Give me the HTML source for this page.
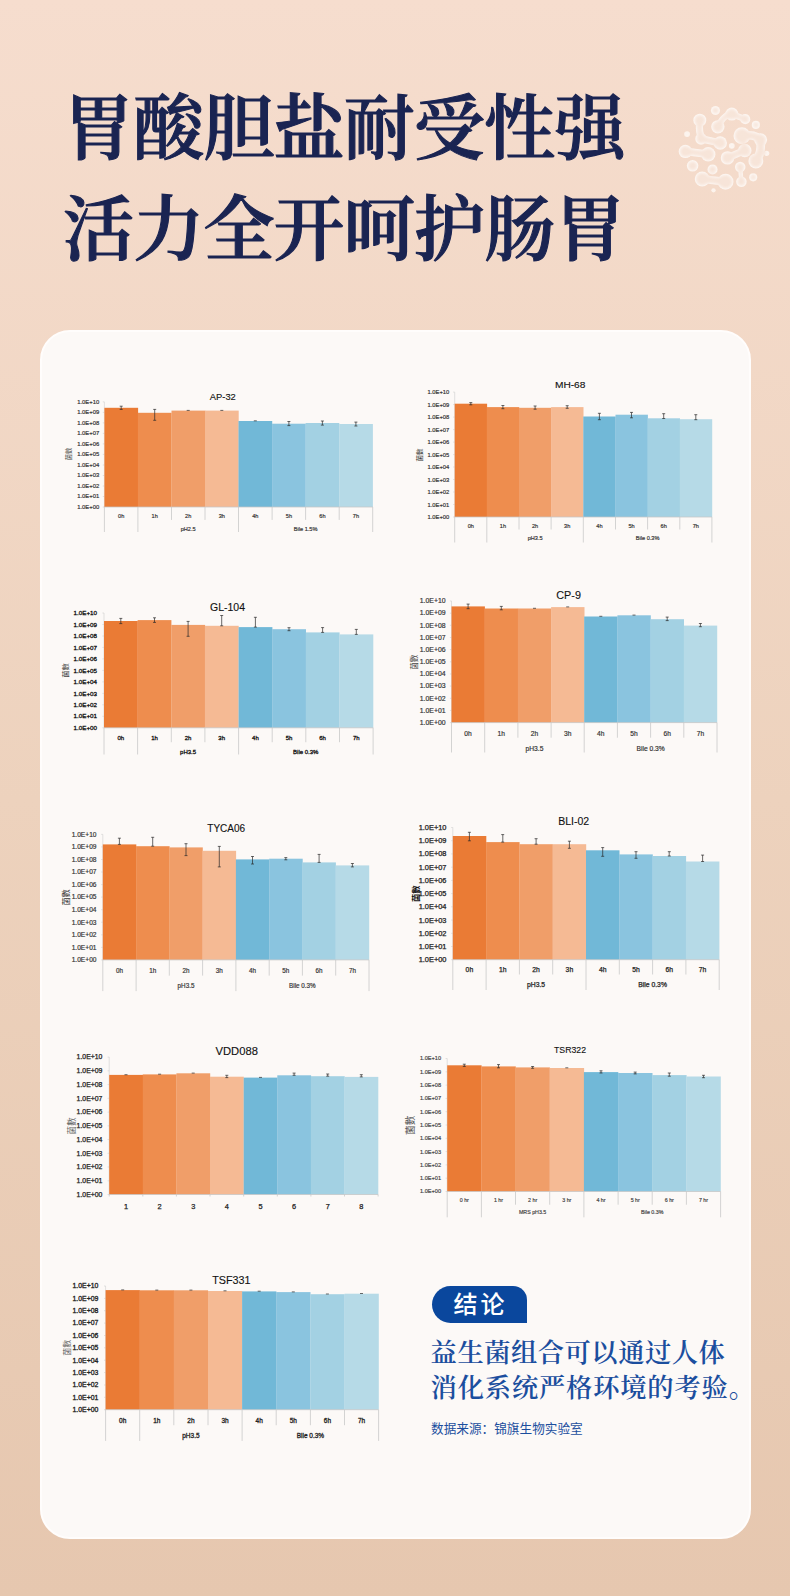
<!DOCTYPE html>
<html lang="zh-CN">
<head>
<meta charset="utf-8">
<title>胃酸胆盐耐受性强</title>
<style>
html,body{margin:0;padding:0;}
body{width:790px;height:1596px;position:relative;overflow:hidden;
 background:linear-gradient(180deg,#F6DDCE 0px,#EDD2BD 800px,#E6C7AF 1596px);
 font-family:"Liberation Sans","Noto Sans CJK SC",sans-serif;}
.title{position:absolute;left:63px;top:79px;margin:0;color:#1A2452;
 font-family:"Liberation Serif","Noto Serif CJK SC",serif;font-weight:600;-webkit-text-stroke:1.1px #1A2452;
 font-size:71px;line-height:101px;letter-spacing:-0.8px;white-space:nowrap;}
.card{position:absolute;left:40px;top:330px;width:711px;height:1209px;box-sizing:border-box;
 background:#FCF9F7;border:2px solid #FFFDFC;border-radius:30px;}
.charts{position:absolute;left:0;top:0;}

.pill{position:absolute;left:432px;top:1286px;width:95px;height:37px;background:#0A479D;
 border-radius:18.5px 14px 0 18.5px;color:#fff;font-weight:500;font-size:24px;line-height:38px;
 text-align:center;letter-spacing:3px;text-indent:2px;box-sizing:border-box;}
.concl{position:absolute;left:430.6px;top:1336.2px;margin:0;color:#1B4E9E;white-space:nowrap;
 font-family:"Liberation Serif","Noto Serif CJK SC",serif;font-weight:600;font-size:26.3px;line-height:35px;letter-spacing:0.5px;}
.concl span{letter-spacing:0.8px;}
.src{position:absolute;left:431px;top:1419.7px;margin:0;color:#1B4E9E;font-size:12.65px;line-height:18px;white-space:nowrap;}
.deco{position:absolute;left:610px;top:100px;}
</style>
</head>
<body>
<h1 class="title">胃酸胆盐耐受性强<br>活力全开呵护肠胃</h1>
<svg class="deco" width="180" height="120" viewBox="0 0 180 120" aria-hidden="true">
<defs><filter id="soft" x="-10%" y="-10%" width="120%" height="120%" color-interpolation-filters="sRGB">
<feGaussianBlur in="SourceAlpha" stdDeviation="9" result="b"/>
<feComponentTransfer in="b" result="inner"><feFuncA type="linear" slope="2.2" intercept="-1.1"/></feComponentTransfer>
<feGaussianBlur in="SourceGraphic" stdDeviation="2.2" result="sg"/>
<feComposite in="sg" in2="inner" operator="arithmetic" k1="-0.62" k2="1" k3="0" k4="0"/>
</filter></defs>
<g transform="translate(-10 -40) scale(0.2405)" filter="url(#soft)" fill="#FFFCF9" stroke="#FFFCF9" stroke-linecap="round" stroke-linejoin="round" opacity="0.75">
<circle cx="480" cy="210" r="19" stroke="none"/>
<circle cx="415" cy="250" r="27" stroke="none"/><circle cx="500" cy="345" r="28" stroke="none"/><circle cx="420" cy="328" r="24" stroke="none"/>
<path d="M415 250 Q408 318 432 330 L500 345" fill="none" stroke-width="30"/>
<circle cx="490" cy="278" r="28" stroke="none"/><circle cx="548" cy="225" r="27" stroke="none"/><circle cx="604" cy="246" r="21" stroke="none"/>
<path d="M490 278 Q515 225 548 225 L604 246" fill="none" stroke-width="26"/>
<circle cx="648" cy="270" r="17" stroke="none"/>
<circle cx="362" cy="308" r="12" stroke="none"/>
<circle cx="590" cy="315" r="35" stroke="none"/><circle cx="648" cy="420" r="31" stroke="none"/><circle cx="668" cy="332" r="27" stroke="none"/>
<path d="M590 315 Q655 305 668 340 Q672 390 648 420" fill="none" stroke-width="36"/>
<circle cx="355" cy="380" r="28" stroke="none"/><circle cx="450" cy="392" r="30" stroke="none"/>
<path d="M355 380 L450 392" fill="none" stroke-width="32"/>
<circle cx="548" cy="357" r="12" stroke="none"/>
<circle cx="530" cy="407" r="28" stroke="none"/><circle cx="602" cy="376" r="28" stroke="none"/>
<path d="M530 407 L602 376" fill="none" stroke-width="30"/>
<circle cx="385" cy="440" r="24" stroke="none"/>
<circle cx="468" cy="455" r="21" stroke="none"/>
<circle cx="425" cy="495" r="31" stroke="none"/><circle cx="522" cy="506" r="33" stroke="none"/>
<path d="M425 495 L522 506" fill="none" stroke-width="34"/>
<circle cx="583" cy="445" r="22" stroke="none"/><circle cx="588" cy="506" r="22" stroke="none"/>
<path d="M583 445 L588 506" fill="none" stroke-width="18"/>
<circle cx="637" cy="488" r="17" stroke="none"/>
<circle cx="472" cy="542" r="9" stroke="none"/>
<circle cx="693" cy="388" r="11" stroke="none"/>
</g>
</svg>

<div class="card"></div>
<svg class="charts" width="790" height="1596" viewBox="0 0 790 1596">
<g font-family='"Liberation Sans", sans-serif' fill="#333" stroke="#333" stroke-width="0.18">
<text x="222.8" y="399.9" font-size="9.6" text-anchor="middle" textLength="26" lengthAdjust="spacingAndGlyphs" fill="#111" stroke="#111" stroke-width="0.12">AP-32</text>
<path d="M104.4 401.9V507M102.8 401.9h1.6M102.8 412.4h1.6M102.8 422.9h1.6M102.8 433.4h1.6M102.8 443.9h1.6M102.8 454.4h1.6M102.8 465h1.6M102.8 475.5h1.6M102.8 486h1.6M102.8 496.5h1.6M102.8 507h1.6" stroke="#cfcfcf" stroke-width="0.6" fill="none"/>
<rect x="104.4" y="407.8" width="33.7" height="99.2" fill="#EA7B35" stroke="none"/>
<rect x="137.9" y="412.8" width="33.7" height="94.2" fill="#EE8D4E" stroke="none"/>
<rect x="171.5" y="410.6" width="33.7" height="96.4" fill="#F09E69" stroke="none"/>
<rect x="205" y="410.6" width="33.7" height="96.4" fill="#F5BA94" stroke="none"/>
<rect x="238.5" y="421" width="33.7" height="86" fill="#71B8D7" stroke="none"/>
<rect x="272.1" y="423.7" width="33.7" height="83.3" fill="#8AC4DF" stroke="none"/>
<rect x="305.6" y="423" width="33.7" height="84" fill="#A3D1E3" stroke="none"/>
<rect x="339.2" y="424" width="33.7" height="83" fill="#B6DAE7" stroke="none"/>
<path d="M121.2 406.2V409.4M119.7 406.2h3M119.7 409.4h3M154.7 409.4V420.3M153.2 409.4h3M153.2 420.3h3M186.7 410.4h3M220.3 410.4h3M253.8 420.8h3M288.9 421.5V425.6M287.4 421.5h3M287.4 425.6h3M322.4 421V425.1M320.9 421h3M320.9 425.1h3M355.9 422.1V426M354.4 422.1h3M354.4 426h3" stroke="#2a2a2a" stroke-width="0.7" fill="none"/>
<text x="99.2" y="403.9" font-size="5.6" text-anchor="end" textLength="22" lengthAdjust="spacingAndGlyphs">1.0E+10</text>
<text x="99.2" y="414.4" font-size="5.6" text-anchor="end" textLength="22" lengthAdjust="spacingAndGlyphs">1.0E+09</text>
<text x="99.2" y="424.9" font-size="5.6" text-anchor="end" textLength="22" lengthAdjust="spacingAndGlyphs">1.0E+08</text>
<text x="99.2" y="435.4" font-size="5.6" text-anchor="end" textLength="22" lengthAdjust="spacingAndGlyphs">1.0E+07</text>
<text x="99.2" y="445.9" font-size="5.6" text-anchor="end" textLength="22" lengthAdjust="spacingAndGlyphs">1.0E+06</text>
<text x="99.2" y="456.4" font-size="5.6" text-anchor="end" textLength="22" lengthAdjust="spacingAndGlyphs">1.0E+05</text>
<text x="99.2" y="466.9" font-size="5.6" text-anchor="end" textLength="22" lengthAdjust="spacingAndGlyphs">1.0E+04</text>
<text x="99.2" y="477.4" font-size="5.6" text-anchor="end" textLength="22" lengthAdjust="spacingAndGlyphs">1.0E+03</text>
<text x="99.2" y="487.9" font-size="5.6" text-anchor="end" textLength="22" lengthAdjust="spacingAndGlyphs">1.0E+02</text>
<text x="99.2" y="498.4" font-size="5.6" text-anchor="end" textLength="22" lengthAdjust="spacingAndGlyphs">1.0E+01</text>
<text x="99.2" y="509" font-size="5.6" text-anchor="end" textLength="22" lengthAdjust="spacingAndGlyphs">1.0E+00</text>
<text transform="translate(69 454) rotate(-90)" font-family='"Liberation Sans", "Noto Sans CJK TC", sans-serif' font-size="6.3" text-anchor="middle" dy="0.35em" fill="#444" stroke="none">菌數</text>
<path d="M104.4 507V532M137.9 507V532M171.5 507V519.9M205 507V519.9M238.5 507V532M272.1 507V519.9M305.6 507V519.9M339.2 507V519.9M372.7 507V532M104.4 507H372.7" stroke="#c6c6c6" stroke-width="0.75" fill="none"/>
<text x="121.2" y="518" font-size="5.6" text-anchor="middle">0h</text>
<text x="154.7" y="518" font-size="5.6" text-anchor="middle">1h</text>
<text x="188.2" y="518" font-size="5.6" text-anchor="middle">2h</text>
<text x="221.8" y="518" font-size="5.6" text-anchor="middle">3h</text>
<text x="255.3" y="518" font-size="5.6" text-anchor="middle">4h</text>
<text x="288.9" y="518" font-size="5.6" text-anchor="middle">5h</text>
<text x="322.4" y="518" font-size="5.6" text-anchor="middle">6h</text>
<text x="355.9" y="518" font-size="5.6" text-anchor="middle">7h</text>
<text x="188.2" y="531" font-size="5.6" text-anchor="middle">pH2.5</text>
<text x="305.6" y="531" font-size="5.6" text-anchor="middle">Bile 1.5%</text>
</g>
<g font-family='"Liberation Sans", sans-serif' fill="#333" stroke="#333" stroke-width="0.18">
<text x="570.2" y="387.5" font-size="9.6" text-anchor="middle" textLength="30.5" lengthAdjust="spacingAndGlyphs" fill="#111" stroke="#111" stroke-width="0.12">MH-68</text>
<path d="M454.7 392.1V517M453.1 392.1h1.6M453.1 404.6h1.6M453.1 417.1h1.6M453.1 429.6h1.6M453.1 442.1h1.6M453.1 454.6h1.6M453.1 467h1.6M453.1 479.5h1.6M453.1 492h1.6M453.1 504.5h1.6M453.1 517h1.6" stroke="#cfcfcf" stroke-width="0.6" fill="none"/>
<rect x="454.7" y="403.7" width="32.4" height="113.3" fill="#EA7B35" stroke="none"/>
<rect x="486.8" y="407.1" width="32.4" height="109.9" fill="#EE8D4E" stroke="none"/>
<rect x="519" y="407.8" width="32.4" height="109.2" fill="#F09E69" stroke="none"/>
<rect x="551.1" y="407.1" width="32.4" height="109.9" fill="#F5BA94" stroke="none"/>
<rect x="583.3" y="416.5" width="32.4" height="100.5" fill="#71B8D7" stroke="none"/>
<rect x="615.5" y="414.7" width="32.4" height="102.3" fill="#8AC4DF" stroke="none"/>
<rect x="647.6" y="418.3" width="32.4" height="98.7" fill="#A3D1E3" stroke="none"/>
<rect x="679.8" y="419.2" width="32.4" height="97.8" fill="#B6DAE7" stroke="none"/>
<path d="M470.8 402.6V404.8M469.3 402.6h3M469.3 404.8h3M502.9 405.5V408.7M501.4 405.5h3M501.4 408.7h3M535.1 406V409.2M533.6 406h3M533.6 409.2h3M567.2 405.7V408.3M565.7 405.7h3M565.7 408.3h3M599.4 413.3V419.7M597.9 413.3h3M597.9 419.7h3M631.5 412.4V417.8M630 412.4h3M630 417.8h3M663.7 413.7V418.5M662.2 413.7h3M662.2 418.5h3M695.8 414.7V419.7M694.3 414.7h3M694.3 419.7h3" stroke="#2a2a2a" stroke-width="0.7" fill="none"/>
<text x="449.2" y="394.1" font-size="5.6" text-anchor="end" textLength="21.7" lengthAdjust="spacingAndGlyphs">1.0E+10</text>
<text x="449.2" y="406.6" font-size="5.6" text-anchor="end" textLength="21.7" lengthAdjust="spacingAndGlyphs">1.0E+09</text>
<text x="449.2" y="419" font-size="5.6" text-anchor="end" textLength="21.7" lengthAdjust="spacingAndGlyphs">1.0E+08</text>
<text x="449.2" y="431.5" font-size="5.6" text-anchor="end" textLength="21.7" lengthAdjust="spacingAndGlyphs">1.0E+07</text>
<text x="449.2" y="444" font-size="5.6" text-anchor="end" textLength="21.7" lengthAdjust="spacingAndGlyphs">1.0E+06</text>
<text x="449.2" y="456.5" font-size="5.6" text-anchor="end" textLength="21.7" lengthAdjust="spacingAndGlyphs">1.0E+05</text>
<text x="449.2" y="469" font-size="5.6" text-anchor="end" textLength="21.7" lengthAdjust="spacingAndGlyphs">1.0E+04</text>
<text x="449.2" y="481.5" font-size="5.6" text-anchor="end" textLength="21.7" lengthAdjust="spacingAndGlyphs">1.0E+03</text>
<text x="449.2" y="494" font-size="5.6" text-anchor="end" textLength="21.7" lengthAdjust="spacingAndGlyphs">1.0E+02</text>
<text x="449.2" y="506.5" font-size="5.6" text-anchor="end" textLength="21.7" lengthAdjust="spacingAndGlyphs">1.0E+01</text>
<text x="449.2" y="519" font-size="5.6" text-anchor="end" textLength="21.7" lengthAdjust="spacingAndGlyphs">1.0E+00</text>
<text transform="translate(419.6 455) rotate(-90)" font-family='"Liberation Sans", "Noto Sans CJK TC", sans-serif' font-size="6.6" text-anchor="middle" dy="0.35em" fill="#333" stroke="none">菌數</text>
<path d="M454.7 517V542.5M486.8 517V542.5M519 517V529.5M551.1 517V529.5M583.3 517V542.5M615.5 517V529.5M647.6 517V529.5M679.8 517V529.5M711.9 517V542.5M454.7 517H711.9" stroke="#c6c6c6" stroke-width="0.75" fill="none"/>
<text x="470.8" y="527.8" font-size="5.6" text-anchor="middle">0h</text>
<text x="502.9" y="527.8" font-size="5.6" text-anchor="middle">1h</text>
<text x="535.1" y="527.8" font-size="5.6" text-anchor="middle">2h</text>
<text x="567.2" y="527.8" font-size="5.6" text-anchor="middle">3h</text>
<text x="599.4" y="527.8" font-size="5.6" text-anchor="middle">4h</text>
<text x="631.5" y="527.8" font-size="5.6" text-anchor="middle">5h</text>
<text x="663.7" y="527.8" font-size="5.6" text-anchor="middle">6h</text>
<text x="695.8" y="527.8" font-size="5.6" text-anchor="middle">7h</text>
<text x="535.1" y="539.8" font-size="5.6" text-anchor="middle">pH3.5</text>
<text x="647.6" y="539.8" font-size="5.6" text-anchor="middle">Bile 0.3%</text>
</g>
<g font-family='"Liberation Sans", sans-serif' fill="#111" stroke="#111" stroke-width="0.3">
<text x="227.5" y="611.4" font-size="10" text-anchor="middle" textLength="35" lengthAdjust="spacingAndGlyphs" fill="#111" stroke="#111" stroke-width="0.12">GL-104</text>
<path d="M104 613V727.8M102.4 613h1.6M102.4 624.5h1.6M102.4 636h1.6M102.4 647.4h1.6M102.4 658.9h1.6M102.4 670.4h1.6M102.4 681.9h1.6M102.4 693.4h1.6M102.4 704.8h1.6M102.4 716.3h1.6M102.4 727.8h1.6" stroke="#cfcfcf" stroke-width="0.6" fill="none"/>
<rect x="104" y="621" width="33.8" height="106.8" fill="#EA7B35" stroke="none"/>
<rect x="137.6" y="620.1" width="33.8" height="107.7" fill="#EE8D4E" stroke="none"/>
<rect x="171.3" y="624.9" width="33.8" height="102.9" fill="#F09E69" stroke="none"/>
<rect x="204.9" y="625.8" width="33.8" height="102" fill="#F5BA94" stroke="none"/>
<rect x="238.6" y="627.1" width="33.8" height="100.7" fill="#71B8D7" stroke="none"/>
<rect x="272.2" y="629.2" width="33.8" height="98.6" fill="#8AC4DF" stroke="none"/>
<rect x="305.8" y="632.4" width="33.8" height="95.4" fill="#A3D1E3" stroke="none"/>
<rect x="339.5" y="634.4" width="33.8" height="93.4" fill="#B6DAE7" stroke="none"/>
<path d="M120.8 618.4V623.6M119.3 618.4h3M119.3 623.6h3M154.5 617.8V622.4M153 617.8h3M153 622.4h3M188.1 621.4V636.3M186.6 621.4h3M186.6 636.3h3M221.7 615.5V625.8M220.2 615.5h3M220.2 625.8h3M255.4 617.3V627.1M253.9 617.3h3M253.9 627.1h3M289 627.7V630.7M287.5 627.7h3M287.5 630.7h3M322.6 627.6V632.4M321.1 627.6h3M321.1 632.4h3M356.3 629.4V634.4M354.8 629.4h3M354.8 634.4h3" stroke="#2a2a2a" stroke-width="0.7" fill="none"/>
<text x="97.1" y="615.1" font-size="6" text-anchor="end" textLength="23.5" lengthAdjust="spacingAndGlyphs">1.0E+10</text>
<text x="97.1" y="626.6" font-size="6" text-anchor="end" textLength="23.5" lengthAdjust="spacingAndGlyphs">1.0E+09</text>
<text x="97.1" y="638.1" font-size="6" text-anchor="end" textLength="23.5" lengthAdjust="spacingAndGlyphs">1.0E+08</text>
<text x="97.1" y="649.5" font-size="6" text-anchor="end" textLength="23.5" lengthAdjust="spacingAndGlyphs">1.0E+07</text>
<text x="97.1" y="661" font-size="6" text-anchor="end" textLength="23.5" lengthAdjust="spacingAndGlyphs">1.0E+06</text>
<text x="97.1" y="672.5" font-size="6" text-anchor="end" textLength="23.5" lengthAdjust="spacingAndGlyphs">1.0E+05</text>
<text x="97.1" y="684" font-size="6" text-anchor="end" textLength="23.5" lengthAdjust="spacingAndGlyphs">1.0E+04</text>
<text x="97.1" y="695.5" font-size="6" text-anchor="end" textLength="23.5" lengthAdjust="spacingAndGlyphs">1.0E+03</text>
<text x="97.1" y="706.9" font-size="6" text-anchor="end" textLength="23.5" lengthAdjust="spacingAndGlyphs">1.0E+02</text>
<text x="97.1" y="718.4" font-size="6" text-anchor="end" textLength="23.5" lengthAdjust="spacingAndGlyphs">1.0E+01</text>
<text x="97.1" y="729.9" font-size="6" text-anchor="end" textLength="23.5" lengthAdjust="spacingAndGlyphs">1.0E+00</text>
<text transform="translate(65.9 670.4) rotate(-90)" font-family='"Liberation Sans", "Noto Sans CJK TC", sans-serif' font-size="7.4" text-anchor="middle" dy="0.35em" fill="#444" stroke="none">菌數</text>
<path d="M104 727.8V754.5M137.6 727.8V754.5M171.3 727.8V742.2M204.9 727.8V742.2M238.6 727.8V754.5M272.2 727.8V742.2M305.8 727.8V742.2M339.5 727.8V742.2M373.1 727.8V754.5M104 727.8H373.1" stroke="#c6c6c6" stroke-width="0.75" fill="none"/>
<text x="120.8" y="739.7" font-size="6" text-anchor="middle">0h</text>
<text x="154.5" y="739.7" font-size="6" text-anchor="middle">1h</text>
<text x="188.1" y="739.7" font-size="6" text-anchor="middle">2h</text>
<text x="221.7" y="739.7" font-size="6" text-anchor="middle">3h</text>
<text x="255.4" y="739.7" font-size="6" text-anchor="middle">4h</text>
<text x="289" y="739.7" font-size="6" text-anchor="middle">5h</text>
<text x="322.6" y="739.7" font-size="6" text-anchor="middle">6h</text>
<text x="356.3" y="739.7" font-size="6" text-anchor="middle">7h</text>
<text x="188.1" y="754.1" font-size="6" text-anchor="middle">pH3.5</text>
<text x="305.8" y="754.1" font-size="6" text-anchor="middle">Bile 0.3%</text>
</g>
<g font-family='"Liberation Sans", sans-serif' fill="#333" stroke="#333" stroke-width="0.18">
<text x="568.6" y="599.1" font-size="10" text-anchor="middle" textLength="24.6" lengthAdjust="spacingAndGlyphs" fill="#111" stroke="#111" stroke-width="0.12">CP-9</text>
<path d="M451.5 601V722.6M449.9 601h1.6M449.9 613.2h1.6M449.9 625.3h1.6M449.9 637.5h1.6M449.9 649.6h1.6M449.9 661.8h1.6M449.9 674h1.6M449.9 686.1h1.6M449.9 698.3h1.6M449.9 710.4h1.6M449.9 722.6h1.6" stroke="#cfcfcf" stroke-width="0.6" fill="none"/>
<rect x="451.5" y="606.4" width="33.4" height="116.2" fill="#EA7B35" stroke="none"/>
<rect x="484.7" y="608.5" width="33.4" height="114.1" fill="#EE8D4E" stroke="none"/>
<rect x="517.9" y="608.5" width="33.4" height="114.1" fill="#F09E69" stroke="none"/>
<rect x="551.1" y="607.1" width="33.4" height="115.5" fill="#F5BA94" stroke="none"/>
<rect x="584.2" y="616.5" width="33.4" height="106.1" fill="#71B8D7" stroke="none"/>
<rect x="617.4" y="615.3" width="33.4" height="107.3" fill="#8AC4DF" stroke="none"/>
<rect x="650.6" y="619.2" width="33.4" height="103.4" fill="#A3D1E3" stroke="none"/>
<rect x="683.8" y="625.6" width="33.4" height="97" fill="#B6DAE7" stroke="none"/>
<path d="M468.1 604.1V608.7M466.6 604.1h3M466.6 608.7h3M501.3 606.4V609.8M499.8 606.4h3M499.8 609.8h3M533 608.3h3M566.2 606.9h3M599.3 616.3h3M632.5 615.1h3M667.2 617.1V620.6M665.7 617.1h3M665.7 620.6h3M700.4 623.5V626.7M698.9 623.5h3M698.9 626.7h3" stroke="#2a2a2a" stroke-width="0.7" fill="none"/>
<text x="445.6" y="603.3" font-size="6.5" text-anchor="end" textLength="25.8" lengthAdjust="spacingAndGlyphs">1.0E+10</text>
<text x="445.6" y="615.4" font-size="6.5" text-anchor="end" textLength="25.8" lengthAdjust="spacingAndGlyphs">1.0E+09</text>
<text x="445.6" y="627.6" font-size="6.5" text-anchor="end" textLength="25.8" lengthAdjust="spacingAndGlyphs">1.0E+08</text>
<text x="445.6" y="639.8" font-size="6.5" text-anchor="end" textLength="25.8" lengthAdjust="spacingAndGlyphs">1.0E+07</text>
<text x="445.6" y="651.9" font-size="6.5" text-anchor="end" textLength="25.8" lengthAdjust="spacingAndGlyphs">1.0E+06</text>
<text x="445.6" y="664.1" font-size="6.5" text-anchor="end" textLength="25.8" lengthAdjust="spacingAndGlyphs">1.0E+05</text>
<text x="445.6" y="676.2" font-size="6.5" text-anchor="end" textLength="25.8" lengthAdjust="spacingAndGlyphs">1.0E+04</text>
<text x="445.6" y="688.4" font-size="6.5" text-anchor="end" textLength="25.8" lengthAdjust="spacingAndGlyphs">1.0E+03</text>
<text x="445.6" y="700.6" font-size="6.5" text-anchor="end" textLength="25.8" lengthAdjust="spacingAndGlyphs">1.0E+02</text>
<text x="445.6" y="712.7" font-size="6.5" text-anchor="end" textLength="25.8" lengthAdjust="spacingAndGlyphs">1.0E+01</text>
<text x="445.6" y="724.9" font-size="6.5" text-anchor="end" textLength="25.8" lengthAdjust="spacingAndGlyphs">1.0E+00</text>
<text transform="translate(414.6 662.2) rotate(-90)" font-family='"Liberation Sans", "Noto Sans CJK TC", sans-serif' font-size="7.5" text-anchor="middle" dy="0.35em" fill="#444" stroke="none">菌數</text>
<path d="M451.5 722.6V752.5M484.7 722.6V752.5M517.9 722.6V737.7M551.1 722.6V737.7M584.2 722.6V752.5M617.4 722.6V737.7M650.6 722.6V737.7M683.8 722.6V737.7M717 722.6V752.5M451.5 722.6H717" stroke="#c6c6c6" stroke-width="0.75" fill="none"/>
<text x="468.1" y="735.7" font-size="6.7" text-anchor="middle">0h</text>
<text x="501.3" y="735.7" font-size="6.7" text-anchor="middle">1h</text>
<text x="534.5" y="735.7" font-size="6.7" text-anchor="middle">2h</text>
<text x="567.7" y="735.7" font-size="6.7" text-anchor="middle">3h</text>
<text x="600.8" y="735.7" font-size="6.7" text-anchor="middle">4h</text>
<text x="634" y="735.7" font-size="6.7" text-anchor="middle">5h</text>
<text x="667.2" y="735.7" font-size="6.7" text-anchor="middle">6h</text>
<text x="700.4" y="735.7" font-size="6.7" text-anchor="middle">7h</text>
<text x="534.5" y="750.7" font-size="6.7" text-anchor="middle">pH3.5</text>
<text x="650.6" y="750.7" font-size="6.7" text-anchor="middle">Bile 0.3%</text>
</g>
<g font-family='"Liberation Sans", sans-serif' fill="#333" stroke="#333" stroke-width="0.18">
<text x="226.2" y="831.6" font-size="10" text-anchor="middle" textLength="37.8" lengthAdjust="spacingAndGlyphs" fill="#111" stroke="#111" stroke-width="0.12">TYCA06</text>
<path d="M102.8 834.4V959.9M101.2 834.4h1.6M101.2 846.9h1.6M101.2 859.5h1.6M101.2 872h1.6M101.2 884.6h1.6M101.2 897.1h1.6M101.2 909.7h1.6M101.2 922.2h1.6M101.2 934.8h1.6M101.2 947.4h1.6M101.2 959.9h1.6" stroke="#cfcfcf" stroke-width="0.6" fill="none"/>
<rect x="102.8" y="844.4" width="33.5" height="115.5" fill="#EA7B35" stroke="none"/>
<rect x="136.1" y="846.2" width="33.5" height="113.7" fill="#EE8D4E" stroke="none"/>
<rect x="169.3" y="847.4" width="33.5" height="112.5" fill="#F09E69" stroke="none"/>
<rect x="202.6" y="850.8" width="33.5" height="109.1" fill="#F5BA94" stroke="none"/>
<rect x="235.9" y="859.4" width="33.5" height="100.5" fill="#71B8D7" stroke="none"/>
<rect x="269.2" y="858.7" width="33.5" height="101.2" fill="#8AC4DF" stroke="none"/>
<rect x="302.4" y="862.4" width="33.5" height="97.5" fill="#A3D1E3" stroke="none"/>
<rect x="335.7" y="865.4" width="33.5" height="94.5" fill="#B6DAE7" stroke="none"/>
<path d="M119.4 838.2V844.4M117.9 838.2h3M117.9 844.4h3M152.7 837.3V846.2M151.2 837.3h3M151.2 846.2h3M186 843.7V855.6M184.5 843.7h3M184.5 855.6h3M219.3 846.4V866.9M217.8 846.4h3M217.8 866.9h3M252.5 856.5V864M251 856.5h3M251 864h3M285.8 857.6V859.8M284.3 857.6h3M284.3 859.8h3M319.1 854.4V862.4M317.6 854.4h3M317.6 862.4h3M352.4 863.5V866.9M350.9 863.5h3M350.9 866.9h3" stroke="#2a2a2a" stroke-width="0.7" fill="none"/>
<text x="96.5" y="836.6" font-size="6.3" text-anchor="end" textLength="24.8" lengthAdjust="spacingAndGlyphs">1.0E+10</text>
<text x="96.5" y="849.2" font-size="6.3" text-anchor="end" textLength="24.8" lengthAdjust="spacingAndGlyphs">1.0E+09</text>
<text x="96.5" y="861.7" font-size="6.3" text-anchor="end" textLength="24.8" lengthAdjust="spacingAndGlyphs">1.0E+08</text>
<text x="96.5" y="874.3" font-size="6.3" text-anchor="end" textLength="24.8" lengthAdjust="spacingAndGlyphs">1.0E+07</text>
<text x="96.5" y="886.8" font-size="6.3" text-anchor="end" textLength="24.8" lengthAdjust="spacingAndGlyphs">1.0E+06</text>
<text x="96.5" y="899.4" font-size="6.3" text-anchor="end" textLength="24.8" lengthAdjust="spacingAndGlyphs">1.0E+05</text>
<text x="96.5" y="911.9" font-size="6.3" text-anchor="end" textLength="24.8" lengthAdjust="spacingAndGlyphs">1.0E+04</text>
<text x="96.5" y="924.5" font-size="6.3" text-anchor="end" textLength="24.8" lengthAdjust="spacingAndGlyphs">1.0E+03</text>
<text x="96.5" y="937" font-size="6.3" text-anchor="end" textLength="24.8" lengthAdjust="spacingAndGlyphs">1.0E+02</text>
<text x="96.5" y="949.6" font-size="6.3" text-anchor="end" textLength="24.8" lengthAdjust="spacingAndGlyphs">1.0E+01</text>
<text x="96.5" y="962.1" font-size="6.3" text-anchor="end" textLength="24.8" lengthAdjust="spacingAndGlyphs">1.0E+00</text>
<text transform="translate(65.9 897.4) rotate(-90)" font-family='"Liberation Sans", "Noto Sans CJK TC", sans-serif' font-size="8.2" text-anchor="middle" dy="0.35em" fill="#333" stroke="none">菌數</text>
<path d="M102.8 959.9V991.1M136.1 959.9V991.1M169.3 959.9V975.6M202.6 959.9V975.6M235.9 959.9V991.1M269.2 959.9V975.6M302.4 959.9V975.6M335.7 959.9V975.6M369 959.9V991.1M102.8 959.9H369" stroke="#c6c6c6" stroke-width="0.75" fill="none"/>
<text x="119.4" y="972.8" font-size="6.3" text-anchor="middle">0h</text>
<text x="152.7" y="972.8" font-size="6.3" text-anchor="middle">1h</text>
<text x="186" y="972.8" font-size="6.3" text-anchor="middle">2h</text>
<text x="219.3" y="972.8" font-size="6.3" text-anchor="middle">3h</text>
<text x="252.5" y="972.8" font-size="6.3" text-anchor="middle">4h</text>
<text x="285.8" y="972.8" font-size="6.3" text-anchor="middle">5h</text>
<text x="319.1" y="972.8" font-size="6.3" text-anchor="middle">6h</text>
<text x="352.4" y="972.8" font-size="6.3" text-anchor="middle">7h</text>
<text x="186" y="988.1" font-size="6.3" text-anchor="middle">pH3.5</text>
<text x="302.4" y="988.1" font-size="6.3" text-anchor="middle">Bile 0.3%</text>
</g>
<g font-family='"Liberation Sans", sans-serif' fill="#222" stroke="#222" stroke-width="0.25">
<text x="573.7" y="824.8" font-size="10.5" text-anchor="middle" textLength="31" lengthAdjust="spacingAndGlyphs" fill="#111" stroke="#111" stroke-width="0.12">BLI-02</text>
<path d="M452.8 827.5V959.7M451.2 827.5h1.6M451.2 840.7h1.6M451.2 853.9h1.6M451.2 867.2h1.6M451.2 880.4h1.6M451.2 893.6h1.6M451.2 906.8h1.6M451.2 920h1.6M451.2 933.3h1.6M451.2 946.5h1.6M451.2 959.7h1.6" stroke="#cfcfcf" stroke-width="0.6" fill="none"/>
<rect x="452.8" y="836" width="33.5" height="123.7" fill="#EA7B35" stroke="none"/>
<rect x="486.1" y="842.1" width="33.5" height="117.6" fill="#EE8D4E" stroke="none"/>
<rect x="519.4" y="844.2" width="33.5" height="115.5" fill="#F09E69" stroke="none"/>
<rect x="552.7" y="844.2" width="33.5" height="115.5" fill="#F5BA94" stroke="none"/>
<rect x="586" y="850.3" width="33.5" height="109.4" fill="#71B8D7" stroke="none"/>
<rect x="619.3" y="854.4" width="33.5" height="105.3" fill="#8AC4DF" stroke="none"/>
<rect x="652.6" y="856" width="33.5" height="103.7" fill="#A3D1E3" stroke="none"/>
<rect x="685.9" y="861.5" width="33.5" height="98.2" fill="#B6DAE7" stroke="none"/>
<path d="M469.4 832.3V840.8M467.9 832.3h3M467.9 840.8h3M502.8 834.6V842.1M501.2 834.6h3M501.2 842.1h3M536.1 838.7V844.2M534.6 838.7h3M534.6 844.2h3M569.4 841.2V848.3M567.9 841.2h3M567.9 848.3h3M602.7 847.6V856.3M601.2 847.6h3M601.2 856.3h3M636 851.7V858.3M634.5 851.7h3M634.5 858.3h3M669.2 851.7V856M667.8 851.7h3M667.8 856h3M702.6 855.1V861.5M701.1 855.1h3M701.1 861.5h3" stroke="#2a2a2a" stroke-width="0.7" fill="none"/>
<text x="446.5" y="830" font-size="7" text-anchor="end" textLength="27.8" lengthAdjust="spacingAndGlyphs">1.0E+10</text>
<text x="446.5" y="843.2" font-size="7" text-anchor="end" textLength="27.8" lengthAdjust="spacingAndGlyphs">1.0E+09</text>
<text x="446.5" y="856.4" font-size="7" text-anchor="end" textLength="27.8" lengthAdjust="spacingAndGlyphs">1.0E+08</text>
<text x="446.5" y="869.6" font-size="7" text-anchor="end" textLength="27.8" lengthAdjust="spacingAndGlyphs">1.0E+07</text>
<text x="446.5" y="882.8" font-size="7" text-anchor="end" textLength="27.8" lengthAdjust="spacingAndGlyphs">1.0E+06</text>
<text x="446.5" y="896.1" font-size="7" text-anchor="end" textLength="27.8" lengthAdjust="spacingAndGlyphs">1.0E+05</text>
<text x="446.5" y="909.3" font-size="7" text-anchor="end" textLength="27.8" lengthAdjust="spacingAndGlyphs">1.0E+04</text>
<text x="446.5" y="922.5" font-size="7" text-anchor="end" textLength="27.8" lengthAdjust="spacingAndGlyphs">1.0E+03</text>
<text x="446.5" y="935.7" font-size="7" text-anchor="end" textLength="27.8" lengthAdjust="spacingAndGlyphs">1.0E+02</text>
<text x="446.5" y="948.9" font-size="7" text-anchor="end" textLength="27.8" lengthAdjust="spacingAndGlyphs">1.0E+01</text>
<text x="446.5" y="962.2" font-size="7" text-anchor="end" textLength="27.8" lengthAdjust="spacingAndGlyphs">1.0E+00</text>
<text transform="translate(416.5 893.7) rotate(-90)" font-family='"Liberation Sans", "Noto Sans CJK TC", sans-serif' font-size="8.3" text-anchor="middle" dy="0.35em" fill="#111" stroke="none" font-weight="bold">菌數</text>
<path d="M452.8 959.7V990M486.1 959.7V990M519.4 959.7V974.5M552.7 959.7V974.5M586 959.7V990M619.3 959.7V974.5M652.6 959.7V974.5M685.9 959.7V974.5M719.2 959.7V990M452.8 959.7H719.2" stroke="#c6c6c6" stroke-width="0.75" fill="none"/>
<text x="469.4" y="972.4" font-size="6.8" text-anchor="middle">0h</text>
<text x="502.8" y="972.4" font-size="6.8" text-anchor="middle">1h</text>
<text x="536.1" y="972.4" font-size="6.8" text-anchor="middle">2h</text>
<text x="569.4" y="972.4" font-size="6.8" text-anchor="middle">3h</text>
<text x="602.7" y="972.4" font-size="6.8" text-anchor="middle">4h</text>
<text x="636" y="972.4" font-size="6.8" text-anchor="middle">5h</text>
<text x="669.2" y="972.4" font-size="6.8" text-anchor="middle">6h</text>
<text x="702.6" y="972.4" font-size="6.8" text-anchor="middle">7h</text>
<text x="536.1" y="987.4" font-size="6.8" text-anchor="middle">pH3.5</text>
<text x="652.6" y="987.4" font-size="6.8" text-anchor="middle">Bile 0.3%</text>
</g>
<g font-family='"Liberation Sans", sans-serif' fill="#222" stroke="#222" stroke-width="0.25">
<text x="236.7" y="1054.8" font-size="10.5" text-anchor="middle" textLength="42.4" lengthAdjust="spacingAndGlyphs" fill="#111" stroke="#111" stroke-width="0.12">VDD088</text>
<path d="M109.2 1057.1V1194.5M107.6 1057.1h1.6M107.6 1070.8h1.6M107.6 1084.6h1.6M107.6 1098.3h1.6M107.6 1112.1h1.6M107.6 1125.8h1.6M107.6 1139.5h1.6M107.6 1153.3h1.6M107.6 1167h1.6M107.6 1180.8h1.6M107.6 1194.5h1.6" stroke="#cfcfcf" stroke-width="0.6" fill="none"/>
<rect x="109.2" y="1074.9" width="33.8" height="119.6" fill="#EA7B35" stroke="none"/>
<rect x="142.8" y="1074.4" width="33.8" height="120.1" fill="#EE8D4E" stroke="none"/>
<rect x="176.4" y="1073.3" width="33.8" height="121.2" fill="#F09E69" stroke="none"/>
<rect x="210" y="1076.7" width="33.8" height="117.8" fill="#F5BA94" stroke="none"/>
<rect x="243.7" y="1077.6" width="33.8" height="116.9" fill="#71B8D7" stroke="none"/>
<rect x="277.3" y="1075.3" width="33.8" height="119.2" fill="#8AC4DF" stroke="none"/>
<rect x="310.9" y="1076.2" width="33.8" height="118.3" fill="#A3D1E3" stroke="none"/>
<rect x="344.5" y="1076.9" width="33.8" height="117.6" fill="#B6DAE7" stroke="none"/>
<path d="M124.5 1074.7h3M158.1 1074.2h3M191.7 1073.1h3M226.8 1075.3V1077.6M225.3 1075.3h3M225.3 1077.6h3M259 1077.4h3M294.1 1073.1V1075.3M292.6 1073.1h3M292.6 1075.3h3M327.7 1074V1076.2M326.2 1074h3M326.2 1076.2h3M361.3 1074.7V1076.9M359.8 1074.7h3M359.8 1076.9h3" stroke="#2a2a2a" stroke-width="0.7" fill="none"/>
<text x="102.4" y="1059.4" font-size="6.5" text-anchor="end" textLength="25.8" lengthAdjust="spacingAndGlyphs">1.0E+10</text>
<text x="102.4" y="1073.1" font-size="6.5" text-anchor="end" textLength="25.8" lengthAdjust="spacingAndGlyphs">1.0E+09</text>
<text x="102.4" y="1086.9" font-size="6.5" text-anchor="end" textLength="25.8" lengthAdjust="spacingAndGlyphs">1.0E+08</text>
<text x="102.4" y="1100.6" font-size="6.5" text-anchor="end" textLength="25.8" lengthAdjust="spacingAndGlyphs">1.0E+07</text>
<text x="102.4" y="1114.3" font-size="6.5" text-anchor="end" textLength="25.8" lengthAdjust="spacingAndGlyphs">1.0E+06</text>
<text x="102.4" y="1128.1" font-size="6.5" text-anchor="end" textLength="25.8" lengthAdjust="spacingAndGlyphs">1.0E+05</text>
<text x="102.4" y="1141.8" font-size="6.5" text-anchor="end" textLength="25.8" lengthAdjust="spacingAndGlyphs">1.0E+04</text>
<text x="102.4" y="1155.6" font-size="6.5" text-anchor="end" textLength="25.8" lengthAdjust="spacingAndGlyphs">1.0E+03</text>
<text x="102.4" y="1169.3" font-size="6.5" text-anchor="end" textLength="25.8" lengthAdjust="spacingAndGlyphs">1.0E+02</text>
<text x="102.4" y="1183" font-size="6.5" text-anchor="end" textLength="25.8" lengthAdjust="spacingAndGlyphs">1.0E+01</text>
<text x="102.4" y="1196.8" font-size="6.5" text-anchor="end" textLength="25.8" lengthAdjust="spacingAndGlyphs">1.0E+00</text>
<text transform="translate(72.1 1126) rotate(-90)" font-family='"Liberation Sans", "Noto Sans CJK TC", sans-serif' font-size="8.6" text-anchor="middle" dy="0.35em" fill="#666" stroke="none">菌數</text>
<path d="M109.2 1194.5v2M142.8 1194.5v2M176.4 1194.5v2M210 1194.5v2M243.7 1194.5v2M277.3 1194.5v2M310.9 1194.5v2M344.5 1194.5v2M378.1 1194.5v2M109.2 1194.5H378.1" stroke="#c6c6c6" stroke-width="0.75" fill="none"/>
<text x="126" y="1208.5" font-size="7.4" text-anchor="middle">1</text>
<text x="159.6" y="1208.5" font-size="7.4" text-anchor="middle">2</text>
<text x="193.2" y="1208.5" font-size="7.4" text-anchor="middle">3</text>
<text x="226.8" y="1208.5" font-size="7.4" text-anchor="middle">4</text>
<text x="260.5" y="1208.5" font-size="7.4" text-anchor="middle">5</text>
<text x="294.1" y="1208.5" font-size="7.4" text-anchor="middle">6</text>
<text x="327.7" y="1208.5" font-size="7.4" text-anchor="middle">7</text>
<text x="361.3" y="1208.5" font-size="7.4" text-anchor="middle">8</text>
</g>
<g font-family='"Liberation Sans", sans-serif' fill="#444" stroke="#444" stroke-width="0.18">
<text x="570" y="1052.5" font-size="9.6" text-anchor="middle" textLength="32" lengthAdjust="spacingAndGlyphs" fill="#111" stroke="#111" stroke-width="0.12">TSR322</text>
<path d="M447.2 1058.5V1191.5M445.6 1058.5h1.6M445.6 1071.8h1.6M445.6 1085.1h1.6M445.6 1098.4h1.6M445.6 1111.7h1.6M445.6 1125h1.6M445.6 1138.3h1.6M445.6 1151.6h1.6M445.6 1164.9h1.6M445.6 1178.2h1.6M445.6 1191.5h1.6" stroke="#cfcfcf" stroke-width="0.6" fill="none"/>
<rect x="447.2" y="1065.3" width="34.4" height="126.2" fill="#EA7B35" stroke="none"/>
<rect x="481.4" y="1066.4" width="34.4" height="125.1" fill="#EE8D4E" stroke="none"/>
<rect x="515.5" y="1067.4" width="34.4" height="124.1" fill="#F09E69" stroke="none"/>
<rect x="549.7" y="1068" width="34.4" height="123.5" fill="#F5BA94" stroke="none"/>
<rect x="583.9" y="1072.1" width="34.4" height="119.4" fill="#71B8D7" stroke="none"/>
<rect x="618.1" y="1073" width="34.4" height="118.5" fill="#8AC4DF" stroke="none"/>
<rect x="652.2" y="1075.1" width="34.4" height="116.4" fill="#A3D1E3" stroke="none"/>
<rect x="686.4" y="1076.5" width="34.4" height="115" fill="#B6DAE7" stroke="none"/>
<path d="M464.3 1064.2V1066.4M462.8 1064.2h3M462.8 1066.4h3M498.5 1064.6V1067.8M497 1064.6h3M497 1067.8h3M532.6 1066.5V1068.3M531.1 1066.5h3M531.1 1068.3h3M565.3 1067.8h3M601 1070.8V1073M599.5 1070.8h3M599.5 1073h3M635.2 1072.1V1073.9M633.7 1072.1h3M633.7 1073.9h3M669.3 1073V1076.2M667.8 1073h3M667.8 1076.2h3M703.5 1075.3V1077.7M702 1075.3h3M702 1077.7h3" stroke="#2a2a2a" stroke-width="0.7" fill="none"/>
<text x="441" y="1060.4" font-size="5.3" text-anchor="end" textLength="21" lengthAdjust="spacingAndGlyphs">1.0E+10</text>
<text x="441" y="1073.7" font-size="5.3" text-anchor="end" textLength="21" lengthAdjust="spacingAndGlyphs">1.0E+09</text>
<text x="441" y="1087" font-size="5.3" text-anchor="end" textLength="21" lengthAdjust="spacingAndGlyphs">1.0E+08</text>
<text x="441" y="1100.3" font-size="5.3" text-anchor="end" textLength="21" lengthAdjust="spacingAndGlyphs">1.0E+07</text>
<text x="441" y="1113.6" font-size="5.3" text-anchor="end" textLength="21" lengthAdjust="spacingAndGlyphs">1.0E+06</text>
<text x="441" y="1126.9" font-size="5.3" text-anchor="end" textLength="21" lengthAdjust="spacingAndGlyphs">1.0E+05</text>
<text x="441" y="1140.2" font-size="5.3" text-anchor="end" textLength="21" lengthAdjust="spacingAndGlyphs">1.0E+04</text>
<text x="441" y="1153.5" font-size="5.3" text-anchor="end" textLength="21" lengthAdjust="spacingAndGlyphs">1.0E+03</text>
<text x="441" y="1166.8" font-size="5.3" text-anchor="end" textLength="21" lengthAdjust="spacingAndGlyphs">1.0E+02</text>
<text x="441" y="1180.1" font-size="5.3" text-anchor="end" textLength="21" lengthAdjust="spacingAndGlyphs">1.0E+01</text>
<text x="441" y="1193.4" font-size="5.3" text-anchor="end" textLength="21" lengthAdjust="spacingAndGlyphs">1.0E+00</text>
<text transform="translate(410.4 1125.3) rotate(-90)" font-family='"Liberation Sans", "Noto Sans CJK TC", sans-serif' font-size="9.7" text-anchor="middle" dy="0.35em" fill="#555" stroke="none">菌數</text>
<path d="M447.2 1191.5V1217.3M481.4 1191.5V1217.3M515.5 1191.5V1204.7M549.7 1191.5V1204.7M583.9 1191.5V1217.3M618.1 1191.5V1204.7M652.2 1191.5V1204.7M686.4 1191.5V1204.7M720.6 1191.5V1217.3M447.2 1191.5H720.6" stroke="#c6c6c6" stroke-width="0.75" fill="none"/>
<text x="464.3" y="1201.6" font-size="5.3" text-anchor="middle">0 hr</text>
<text x="498.5" y="1201.6" font-size="5.3" text-anchor="middle">1 hr</text>
<text x="532.6" y="1201.6" font-size="5.3" text-anchor="middle">2 hr</text>
<text x="566.8" y="1201.6" font-size="5.3" text-anchor="middle">3 hr</text>
<text x="601" y="1201.6" font-size="5.3" text-anchor="middle">4 hr</text>
<text x="635.2" y="1201.6" font-size="5.3" text-anchor="middle">5 hr</text>
<text x="669.3" y="1201.6" font-size="5.3" text-anchor="middle">6 hr</text>
<text x="703.5" y="1201.6" font-size="5.3" text-anchor="middle">7 hr</text>
<text x="532.6" y="1214.2" font-size="5.3" text-anchor="middle">MRS pH3.5</text>
<text x="652.2" y="1214.2" font-size="5.3" text-anchor="middle">Bile 0.3%</text>
</g>
<g font-family='"Liberation Sans", sans-serif' fill="#222" stroke="#222" stroke-width="0.3">
<text x="231.4" y="1283.6" font-size="10.5" text-anchor="middle" textLength="38.3" lengthAdjust="spacingAndGlyphs" fill="#111" stroke="#111" stroke-width="0.12">TSF331</text>
<path d="M105.6 1286V1409.7M104 1286h1.6M104 1298.4h1.6M104 1310.7h1.6M104 1323.1h1.6M104 1335.5h1.6M104 1347.8h1.6M104 1360.2h1.6M104 1372.6h1.6M104 1385h1.6M104 1397.3h1.6M104 1409.7h1.6" stroke="#cfcfcf" stroke-width="0.6" fill="none"/>
<rect x="105.6" y="1290.1" width="34.3" height="119.6" fill="#EA7B35" stroke="none"/>
<rect x="139.7" y="1290.3" width="34.3" height="119.4" fill="#EE8D4E" stroke="none"/>
<rect x="173.8" y="1290.3" width="34.3" height="119.4" fill="#F09E69" stroke="none"/>
<rect x="208" y="1291" width="34.3" height="118.7" fill="#F5BA94" stroke="none"/>
<rect x="242.1" y="1291.4" width="34.3" height="118.3" fill="#71B8D7" stroke="none"/>
<rect x="276.2" y="1292.1" width="34.3" height="117.6" fill="#8AC4DF" stroke="none"/>
<rect x="310.4" y="1294.2" width="34.3" height="115.5" fill="#A3D1E3" stroke="none"/>
<rect x="344.5" y="1293.7" width="34.3" height="116" fill="#B6DAE7" stroke="none"/>
<path d="M121.2 1289.9h3M155.3 1290.1h3M189.4 1290.1h3M223.5 1290.8h3M257.7 1291.2h3M291.8 1291.9h3M325.9 1294h3M360 1293.5h3" stroke="#2a2a2a" stroke-width="0.7" fill="none"/>
<text x="98.3" y="1288.3" font-size="6.5" text-anchor="end" textLength="25.8" lengthAdjust="spacingAndGlyphs">1.0E+10</text>
<text x="98.3" y="1300.6" font-size="6.5" text-anchor="end" textLength="25.8" lengthAdjust="spacingAndGlyphs">1.0E+09</text>
<text x="98.3" y="1313" font-size="6.5" text-anchor="end" textLength="25.8" lengthAdjust="spacingAndGlyphs">1.0E+08</text>
<text x="98.3" y="1325.4" font-size="6.5" text-anchor="end" textLength="25.8" lengthAdjust="spacingAndGlyphs">1.0E+07</text>
<text x="98.3" y="1337.8" font-size="6.5" text-anchor="end" textLength="25.8" lengthAdjust="spacingAndGlyphs">1.0E+06</text>
<text x="98.3" y="1350.1" font-size="6.5" text-anchor="end" textLength="25.8" lengthAdjust="spacingAndGlyphs">1.0E+05</text>
<text x="98.3" y="1362.5" font-size="6.5" text-anchor="end" textLength="25.8" lengthAdjust="spacingAndGlyphs">1.0E+04</text>
<text x="98.3" y="1374.9" font-size="6.5" text-anchor="end" textLength="25.8" lengthAdjust="spacingAndGlyphs">1.0E+03</text>
<text x="98.3" y="1387.2" font-size="6.5" text-anchor="end" textLength="25.8" lengthAdjust="spacingAndGlyphs">1.0E+02</text>
<text x="98.3" y="1399.6" font-size="6.5" text-anchor="end" textLength="25.8" lengthAdjust="spacingAndGlyphs">1.0E+01</text>
<text x="98.3" y="1412" font-size="6.5" text-anchor="end" textLength="25.8" lengthAdjust="spacingAndGlyphs">1.0E+00</text>
<text transform="translate(67 1347.8) rotate(-90)" font-family='"Liberation Sans", "Noto Sans CJK TC", sans-serif' font-size="8" text-anchor="middle" dy="0.35em" fill="#666" stroke="none">菌數</text>
<path d="M105.6 1409.7V1440.9M139.7 1409.7V1440.9M173.8 1409.7V1425.2M208 1409.7V1425.2M242.1 1409.7V1440.9M276.2 1409.7V1425.2M310.4 1409.7V1425.2M344.5 1409.7V1425.2M378.6 1409.7V1440.9M105.6 1409.7H378.6" stroke="#c6c6c6" stroke-width="0.75" fill="none"/>
<text x="122.7" y="1422.9" font-size="6.5" text-anchor="middle">0h</text>
<text x="156.8" y="1422.9" font-size="6.5" text-anchor="middle">1h</text>
<text x="190.9" y="1422.9" font-size="6.5" text-anchor="middle">2h</text>
<text x="225" y="1422.9" font-size="6.5" text-anchor="middle">3h</text>
<text x="259.2" y="1422.9" font-size="6.5" text-anchor="middle">4h</text>
<text x="293.3" y="1422.9" font-size="6.5" text-anchor="middle">5h</text>
<text x="327.4" y="1422.9" font-size="6.5" text-anchor="middle">6h</text>
<text x="361.5" y="1422.9" font-size="6.5" text-anchor="middle">7h</text>
<text x="190.9" y="1438.2" font-size="6.5" text-anchor="middle">pH3.5</text>
<text x="310.4" y="1438.2" font-size="6.5" text-anchor="middle">Bile 0.3%</text>
</g>
</svg>
<div class="pill">结论</div>
<p class="concl">益生菌组合可以通过人体<br><span>消化系统严格环境的考验。</span></p>
<p class="src">数据来源：锦旗生物实验室</p>
</body>
</html>
